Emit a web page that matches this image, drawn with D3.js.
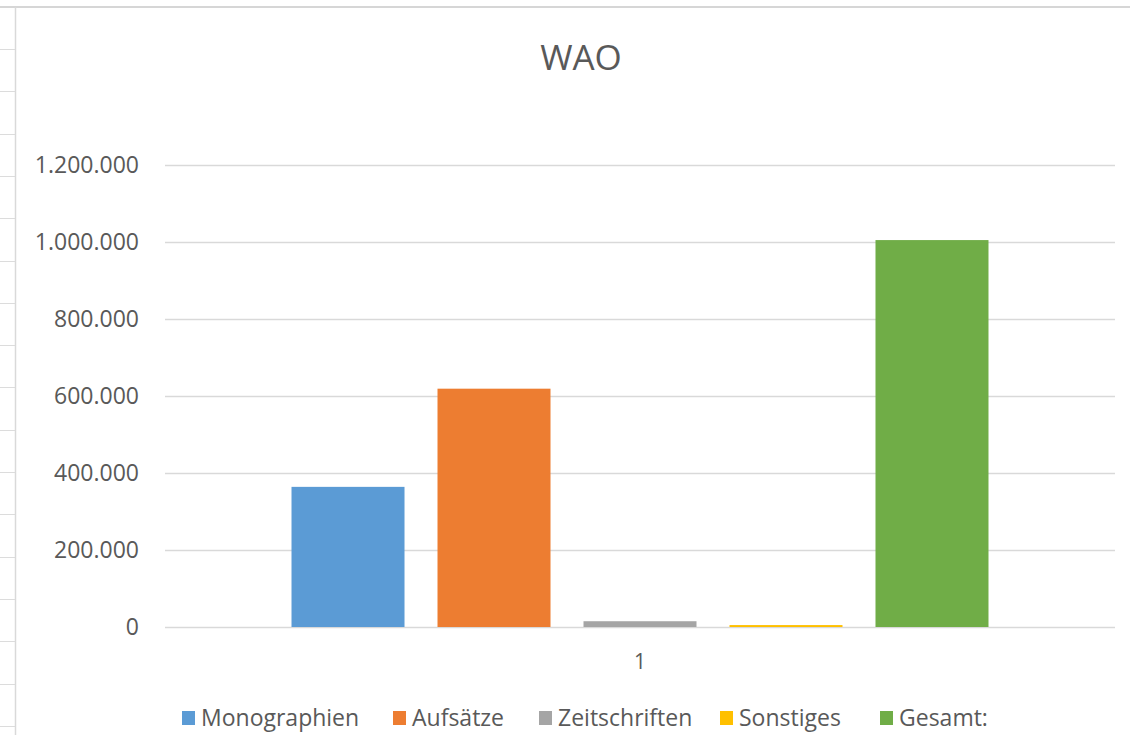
<!DOCTYPE html>
<html>
<head>
<meta charset="utf-8">
<script src="https://cdn.jsdelivr.net/npm/d3@7"></script>
<style>
  body { margin: 0; background: #fff; }
  svg { display: block; }
</style>
</head>
<body>
<div id="plot"></div>
<script>
const width = 1130
const height = 735
const margin = ({top: 165, right: 15, bottom: 108, left: 165})

// data
const categories = ["1"]
const seriesNames = ["Monographien", "Aufsätze", "Zeitschriften", "Sonstiges", "Gesamt:"]
const seriesValues = [364000, 619000, 15000, 5000, 1005000]
const seriesColors = ["#5B9BD5", "#ED7D31", "#A5A5A5", "#FFC000", "#70AD47"]
const yTicks = [0, 200000, 400000, 600000, 800000, 1000000, 1200000]

const de = d3.formatLocale({decimal: ",", thousands: ".", grouping: [3], currency: ["", " €"]})
const fmt = de.format(",.0f")

const font = "'Open Sans', Lato, sans-serif"
const textColor = "#595959"

const svg = d3.select("#plot")
  .append("svg")
  .attr("width", width)
  .attr("height", height)

// spreadsheet cell borders behind the chart
svg.append("line")
  .attr("x1", 0).attr("x2", width)
  .attr("y1", 7).attr("y2", 7)
  .attr("stroke", "#d6d6d6").attr("stroke-width", 2)
svg.append("line")
  .attr("x1", 15.5).attr("x2", 15.5)
  .attr("y1", 7).attr("y2", height)
  .attr("stroke", "#d9d9d9").attr("stroke-width", 1.5)
svg.append("g")
  .selectAll("line")
  .data(d3.range(49, height, 42.3))
  .join("line")
  .attr("x1", 0).attr("x2", 15)
  .attr("y1", d => Math.round(d) + 0.5).attr("y2", d => Math.round(d) + 0.5)
  .attr("stroke", "#dcdcdc")

y = d3.scaleLinear()
  .domain([0, 1200000])
  .range([height - margin.bottom, margin.top])

x0 = d3.scaleBand()
  .domain(categories)
  .range([margin.left, width - margin.right])
  .paddingInner(0)
  .paddingOuter(0.1507)

x1 = d3.scaleBand()
  .domain(seriesNames)
  .range([0, x0.bandwidth()])
  .paddingInner(0.226)
  .paddingOuter(0.113)

// gridlines + y labels
yAxis = g => g
  .attr("transform", `translate(${margin.left},0)`)
  .call(d3.axisLeft(y)
    .tickValues(yTicks)
    .tickFormat(fmt)
    .tickSize(-(width - margin.left - margin.right))
    .tickPadding(26))
  .call(g => g.select(".domain").remove())
  .call(g => g.selectAll(".tick line").attr("stroke", "#d9d9d9").attr("stroke-width", 1.3))
  .call(g => g.selectAll(".tick text")
    .attr("fill", textColor)
    .attr("font-family", font)
    .attr("font-size", 23))

svg.append("g").attr("class", "yaxis").call(yAxis)

// bars
svg.append("g")
  .selectAll("g")
  .data(categories)
  .join("g")
  .attr("transform", d => `translate(${x0(d)},0)`)
  .selectAll("rect")
  .data(seriesNames.map((s, i) => ({name: s, value: seriesValues[i], color: seriesColors[i]})))
  .join("rect")
  .attr("x", d => x1(d.name))
  .attr("y", d => y(d.value))
  .attr("width", x1.bandwidth())
  .attr("height", d => y(0) - y(d.value))
  .attr("fill", d => d.color)

// x axis (category labels only)
xAxis = g => g
  .attr("transform", `translate(0,${y(0)})`)
  .call(d3.axisBottom(x0).tickSize(0).tickPadding(27))
  .call(g => g.select(".domain").remove())
  .call(g => g.selectAll(".tick text")
    .attr("fill", textColor)
    .attr("font-family", font)
    .attr("font-size", 21))

svg.append("g").attr("class", "xaxis").call(xAxis)

// title
svg.append("text")
  .attr("x", 581)
  .attr("y", 70)
  .attr("text-anchor", "middle")
  .attr("fill", textColor)
  .attr("font-family", font)
  .attr("font-size", 35)
  .text("WAO")

// legend
const legendX = [182, 393, 539, 720, 880]
const legend = svg.append("g")
  .selectAll("g")
  .data(seriesNames)
  .join("g")
  .attr("transform", (d, i) => `translate(${legendX[i]},711)`)
legend.append("rect")
  .attr("width", 13).attr("height", 14)
  .attr("fill", (d, i) => seriesColors[i])
legend.append("text")
  .attr("x", 19)
  .attr("y", 15)
  .attr("fill", textColor)
  .attr("font-family", font)
  .attr("font-size", 23)
  .text(d => d)
</script>
</body>
</html>
